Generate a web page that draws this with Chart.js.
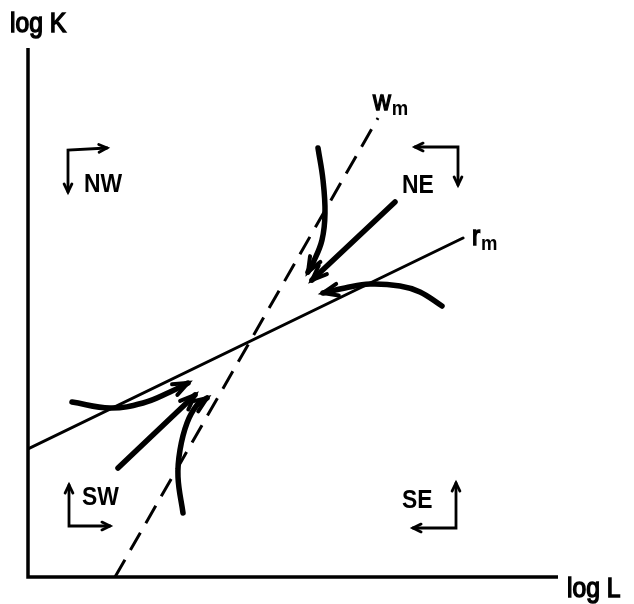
<!DOCTYPE html>
<html>
<head>
<meta charset="utf-8">
<script src="https://cdn.jsdelivr.net/npm/chart.js@4.4.1/dist/chart.umd.min.js"></script>
<style>
  html, body { margin:0; padding:0; background:#fff; }
  #wrap { width:634px; height:604px; }
</style>
</head>
<body>
<div id="wrap"><canvas id="phase" width="634" height="604"></canvas></div>
<script>
// axes run 0..530 in log L and 0..529 in log K (arbitrary units)
const rmLine = [{x:0,y:128},{x:435,y:339}];
const wmLine = [{x:87,y:0},{x:350,y:459}];

// trajectories heading into the equilibrium from each side
const neTop    = [{x:290,y:429},{x:295,y:397},{x:297,y:364},{x:294,y:337},{x:285,y:314},{x:280,y:305}];
const neStraight = [{x:367,y:375},{x:284,y:297}];
const neRight  = [{x:414,y:271},{x:392,y:285},{x:372,y:291},{x:342,y:293},{x:317,y:289},{x:295,y:284}];
const swLeft   = [{x:44,y:175},{x:82,y:169},{x:115,y:174},{x:142,y:185},{x:160,y:194}];
const swStraight = [{x:90,y:109},{x:167,y:182}];
const swBottom = [{x:155,y:64},{x:150,y:100},{x:152,y:127},{x:159,y:154},{x:169,y:172},{x:179,y:179}];

// text labels (data coords of left baseline)
const labels = [
  {text:'log K', x:-18, y:545, size:28},
  {text:'log L', x:539, y:-20, size:28},
  {text:'w', sub:'m', x:345, y:467, size:28},
  {text:'r', sub:'m', x:444, y:332, size:28},
  {text:'NW', x:56, y:385, size:26, glyph:'NW'},
  {text:'NE', x:374, y:384, size:26, glyph:'NE'},
  {text:'SW', x:54, y:72, size:26, glyph:'SW'},
  {text:'SE', x:374, y:69, size:26, glyph:'SE'}
];

// small direction glyphs next to quadrant names: [corner, end1, end2] offsets in px from label
const glyphs = {
  NW: [[-16,-42],[23,-44],[-16,0]],
  NE: [[56,-46],[13,-46],[56,-8]],
  SW: [[-13,21],[-13,-20],[28,21]],
  SE: [[54,20],[54,-25],[11,20]]
};

function arrowHead(ctx, fx, fy, tx, ty, len, ang, lw) {
  const a = Math.atan2(ty - fy, tx - fx);
  ctx.save();
  ctx.lineWidth = lw;
  ctx.lineCap = 'round';
  ctx.strokeStyle = '#000';
  ctx.beginPath();
  ctx.moveTo(tx - len*Math.cos(a-ang), ty - len*Math.sin(a-ang));
  ctx.lineTo(tx, ty);
  ctx.lineTo(tx - len*Math.cos(a+ang), ty - len*Math.sin(a+ang));
  ctx.stroke();
  ctx.restore();
}

const drawExtras = {
  id:'drawExtras',
  afterDatasetsDraw(chart) {
    const ctx = chart.ctx, ca = chart.chartArea;
    const xs = chart.scales.x, ys = chart.scales.y;
    // axes
    ctx.save();
    ctx.strokeStyle = '#000';
    ctx.lineWidth = 3.5;
    ctx.beginPath();
    ctx.moveTo(ca.left, ca.top);
    ctx.lineTo(ca.left, ca.bottom);
    ctx.lineTo(ca.right, ca.bottom);
    ctx.stroke();
    ctx.restore();
    // arrowheads on trajectories
    chart.data.datasets.forEach((ds, i) => {
      if (!ds.arrow) return;
      const pts = chart.getDatasetMeta(i).data;
      const p = pts[pts.length-1], q = pts[pts.length-2];
      let fx = q.x, fy = q.y;
      if (p.cp1x !== undefined && Math.hypot(p.cp1x-p.x, p.cp1y-p.y) > 1) { fx = p.cp1x; fy = p.cp1y; }
      arrowHead(ctx, fx, fy, p.x, p.y, 16, 0.38, 4);
    });
    // labels
    labels.forEach(l => {
      const px = xs.getPixelForValue(l.x), py = ys.getPixelForValue(l.y);
      ctx.save();
      ctx.fillStyle = '#000';
      ctx.strokeStyle = '#000';
      ctx.lineWidth = 1.5;
      ctx.textBaseline = 'alphabetic';
      ctx.translate(px, py);
      ctx.scale(0.88, 1);
      ctx.font = (l.glyph ? 'bold ' : '') + l.size + 'px "Liberation Sans", Arial, sans-serif';
      ctx.fillText(l.text, 0, 0);
      if (!l.glyph) ctx.strokeText(l.text, 0, 0);
      let w = ctx.measureText(l.text).width;
      if (l.sub) {
        ctx.font = 'bold ' + Math.round(l.size*0.75) + 'px "Liberation Sans", Arial, sans-serif';
        ctx.fillText(l.sub, w + 1, 5);
      }
      ctx.restore();
      if (l.glyph) {
        const g = glyphs[l.glyph];
        const c = [px+g[0][0], py+g[0][1]];
        ctx.save();
        ctx.strokeStyle = '#000';
        ctx.lineWidth = 2.8;
        ctx.lineCap = 'round';
        ctx.beginPath();
        ctx.moveTo(px+g[1][0], py+g[1][1]);
        ctx.lineTo(c[0], c[1]);
        ctx.lineTo(px+g[2][0], py+g[2][1]);
        ctx.stroke();
        ctx.restore();
        arrowHead(ctx, c[0], c[1], px+g[1][0], py+g[1][1], 9, 0.45, 2.8);
        arrowHead(ctx, c[0], c[1], px+g[2][0], py+g[2][1], 9, 0.45, 2.8);
      }
    });
  }
};

function curve(data, lw, arrow) {
  return { data, borderColor:'#000', borderWidth:lw, pointRadius:0, tension:0.4,
           fill:false, borderCapStyle:'round', borderJoinStyle:'round', arrow };
}

new Chart(document.getElementById('phase'), {
  type:'line',
  data:{ datasets:[
    Object.assign(curve(rmLine, 3, false), {tension:0}),
    Object.assign(curve(wmLine, 3, false), {tension:0, borderDash:[20,11], borderCapStyle:'butt'}),
    curve(neTop, 5.5, true),
    curve(neStraight, 5.5, true),
    curve(neRight, 5.5, true),
    curve(swLeft, 5.5, true),
    curve(swStraight, 5.5, true),
    curve(swBottom, 5.5, true)
  ]},
  options:{
    responsive:false,
    animation:false,
    layout:{ padding:{ left:28, top:48, right:76, bottom:27 } },
    scales:{
      x:{ type:'linear', min:0, max:530, display:false },
      y:{ type:'linear', min:0, max:529, display:false }
    },
    plugins:{ legend:{display:false}, tooltip:{enabled:false} }
  },
  plugins:[drawExtras]
});
</script>
</body>
</html>
